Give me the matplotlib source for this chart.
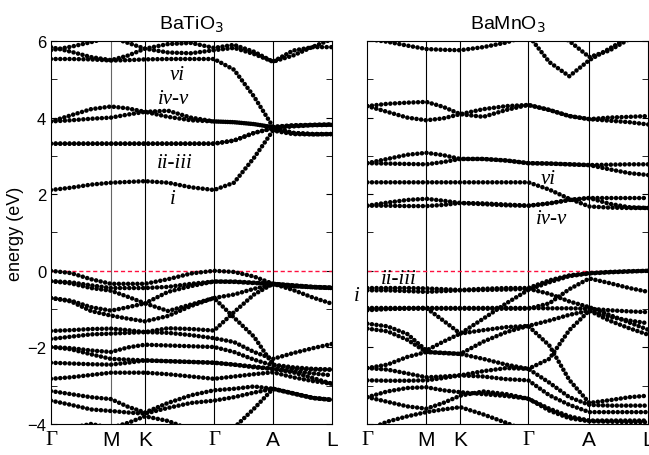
import numpy as np
import matplotlib.pyplot as plt

# k-path sample positions (arbitrary units) and high-symmetry points
k_tio = [0, 20, 40, 60, 77, 94, 117, 140, 163, 183, 203, 222, 242, 262, 281]
k_mno = [0, 20, 40, 59, 76, 93, 116, 139, 161, 182, 202, 222, 242, 262, 281]
hs_tio = [0, 60, 94, 163, 222, 281]
hs_mno = [0, 59, 93, 161, 222, 281]
hs_labels = ['Γ', 'M', 'K', 'Γ', 'A', 'L']

# BaTiO3 bands (eV)
bands_tio = [
    [5.84, 5.72, 5.58, 5.50, 5.62, 5.80, 5.70, 5.68, 5.76, 5.82, 5.66, 5.46, 5.62, 5.85, 6.05],
    [5.76, 5.85, 5.97, 6.10, 5.95, 5.80, 5.92, 5.95, 5.82, 5.90, 5.72, 5.46, 5.75, 5.84, 5.84],
    [5.53, 5.53, 5.52, 5.49, 5.50, 5.52, 5.53, 5.53, 5.53, 5.25, 4.55, 3.76, 3.80, 3.81, 3.82],
    [3.90, 4.06, 4.22, 4.29, 4.24, 4.15, 4.18, 4.00, 3.90, 3.88, 3.83, 3.75, 3.79, 3.81, 3.82],
    [3.90, 3.93, 3.97, 4.00, 4.08, 4.15, 4.02, 3.93, 3.90, 3.88, 3.83, 3.75, 3.60, 3.57, 3.57],
    [3.32, 3.32, 3.32, 3.32, 3.32, 3.32, 3.32, 3.32, 3.32, 3.40, 3.60, 3.72, 3.60, 3.57, 3.57],
    [3.32, 3.32, 3.32, 3.32, 3.32, 3.32, 3.32, 3.32, 3.32, 3.40, 3.60, 3.72, 3.77, 3.80, 3.81],
    [2.11, 2.17, 2.25, 2.30, 2.32, 2.34, 2.30, 2.18, 2.11, 2.30, 2.95, 3.66, 3.57, 3.56, 3.57],
    [0.00, -0.06, -0.22, -0.34, -0.34, -0.34, -0.22, -0.07, 0.00, -0.03, -0.15, -0.34, -0.38, -0.42, -0.44],
    [-0.27, -0.30, -0.38, -0.45, -0.45, -0.45, -0.42, -0.34, -0.28, -0.28, -0.31, -0.34, -0.50, -0.70, -0.86],
    [-0.27, -0.33, -0.45, -0.52, -0.68, -0.85, -0.55, -0.40, -0.28, -0.29, -0.32, -0.34, -0.40, -0.43, -0.45],
    [-0.71, -0.78, -0.95, -1.04, -0.95, -0.85, -1.05, -0.88, -0.71, -1.22, -1.72, -2.45, -2.52, -2.56, -2.58],
    [-0.71, -0.80, -1.05, -1.17, -1.25, -1.32, -1.18, -0.92, -0.71, -0.62, -0.47, -0.36, -0.40, -0.43, -0.45],
    [-1.57, -1.55, -1.52, -1.51, -1.55, -1.60, -1.50, -1.52, -1.56, -1.08, -0.62, -0.34, -0.38, -0.42, -0.44],
    [-1.78, -1.72, -1.66, -1.64, -1.62, -1.60, -1.62, -1.68, -1.76, -1.86, -2.12, -2.30, -2.15, -2.02, -1.91],
    [-1.99, -2.02, -2.08, -2.12, -2.00, -1.93, -1.95, -1.97, -1.99, -2.12, -2.32, -2.47, -2.55, -2.58, -2.58],
    [-1.99, -2.05, -2.18, -2.30, -2.32, -2.34, -2.36, -2.38, -2.40, -2.45, -2.52, -2.56, -2.65, -2.80, -2.95],
    [-2.40, -2.42, -2.44, -2.45, -2.40, -2.34, -2.36, -2.38, -2.40, -2.45, -2.50, -2.56, -2.62, -2.68, -2.73],
    [-2.82, -2.78, -2.72, -2.66, -2.66, -2.66, -2.70, -2.76, -2.82, -2.76, -2.70, -2.65, -2.78, -2.88, -2.95],
    [-3.14, -3.22, -3.30, -3.35, -3.55, -3.70, -3.45, -3.25, -3.12, -3.08, -3.02, -3.08, -3.20, -3.32, -3.37],
    [-3.39, -3.50, -3.62, -3.66, -3.70, -3.73, -3.58, -3.45, -3.39, -3.30, -3.18, -3.08, -3.20, -3.32, -3.37],
    [-4.30, -4.10, -4.00, -4.10, -3.97, -3.80, -3.92, -4.15, -4.40, -4.10, -3.60, -3.08, -3.20, -3.32, -3.37],
]

# BaMnO3 bands (eV)
bands_mno = [
    [6.05, 5.98, 5.88, 5.79, 5.77, 5.76, 5.84, 5.96, 6.15, 5.45, 5.08, 5.50, 5.80, 6.10, 6.30],
    [6.40, 6.40, 6.40, 6.40, 6.40, 6.40, 6.40, 6.40, 6.40, 6.30, 6.00, 5.58, 5.75, 6.05, 6.30],
    [4.30, 4.36, 4.39, 4.41, 4.28, 4.09, 4.22, 4.30, 4.33, 4.20, 4.04, 3.96, 4.00, 4.02, 4.04],
    [4.30, 4.15, 4.00, 3.93, 3.98, 4.09, 4.02, 4.20, 4.33, 4.20, 4.04, 3.96, 3.92, 3.88, 3.82],
    [2.81, 2.92, 3.03, 3.08, 3.02, 2.92, 2.92, 2.88, 2.81, 2.80, 2.78, 2.76, 2.77, 2.78, 2.78],
    [2.81, 2.80, 2.79, 2.78, 2.84, 2.92, 2.92, 2.88, 2.81, 2.80, 2.78, 2.76, 2.65, 2.55, 2.50],
    [2.31, 2.31, 2.31, 2.31, 2.31, 2.31, 2.31, 2.31, 2.31, 2.12, 1.88, 1.68, 1.65, 1.64, 1.64],
    [1.70, 1.78, 1.85, 1.88, 1.83, 1.77, 1.76, 1.73, 1.70, 1.76, 1.85, 1.90, 1.90, 1.90, 1.90],
    [1.70, 1.70, 1.69, 1.69, 1.72, 1.77, 1.74, 1.71, 1.70, 1.76, 1.85, 1.90, 1.75, 1.66, 1.64],
    [-0.45, -0.45, -0.45, -0.46, -0.48, -0.50, -0.47, -0.45, -0.45, -0.25, -0.12, -0.06, -0.03, -0.01, 0.00],
    [-0.51, -0.51, -0.53, -0.55, -0.53, -0.51, -0.50, -0.49, -0.47, -0.60, -0.80, -0.95, -1.15, -1.35, -1.54],
    [-1.38, -1.45, -1.65, -2.08, -1.85, -1.64, -1.25, -0.85, -0.50, -0.30, -0.14, -0.07, -0.04, -0.02, 0.00],
    [-0.97, -0.97, -0.97, -0.97, -0.97, -0.97, -0.97, -0.97, -0.97, -0.98, -0.98, -0.99, -1.03, -1.06, -1.08],
    [-0.99, -0.99, -0.99, -0.99, -0.99, -0.99, -0.99, -0.99, -0.99, -0.85, -0.48, -0.20, -0.32, -0.45, -0.55],
    [-1.03, -1.00, -0.98, -0.97, -1.30, -1.64, -1.55, -1.47, -1.44, -1.95, -2.85, -3.45, -3.38, -3.30, -3.26],
    [-1.51, -1.58, -1.80, -2.12, -2.14, -2.17, -1.85, -1.60, -1.44, -1.30, -1.15, -1.04, -1.20, -1.30, -1.37],
    [-2.54, -2.58, -2.68, -2.78, -2.76, -2.73, -2.62, -2.54, -2.56, -2.30, -1.55, -1.04, -1.30, -1.50, -1.67],
    [-2.54, -2.45, -2.25, -2.12, -2.15, -2.17, -2.30, -2.45, -2.56, -2.92, -3.30, -3.50, -3.52, -3.52, -3.52],
    [-2.86, -2.87, -2.87, -2.86, -2.80, -2.73, -2.76, -2.83, -2.86, -3.25, -3.50, -3.69, -3.69, -3.69, -3.69],
    [-3.30, -3.15, -3.06, -3.04, -3.12, -3.17, -3.22, -3.27, -3.34, -3.60, -3.80, -3.91, -3.91, -3.91, -3.91],
    [-3.30, -3.42, -3.54, -3.60, -3.45, -3.26, -3.15, -3.22, -3.34, -3.65, -3.85, -3.93, -3.94, -3.95, -3.95],
    [-4.15, -3.94, -3.80, -3.69, -3.62, -3.56, -3.75, -3.97, -4.20, -4.30, -4.30, -4.30, -4.30, -4.30, -4.30],
]

# band labels: (text, k, energy)
labels_tio = [('vi', 126, 5.12), ('iv-v', 122, 4.49), ('ii-iii', 124, 2.84), ('i', 122, 1.88)]
labels_mno = [('vi', 181, 2.40), ('iv-v', 184, 1.36), ('ii-iii', 31, -0.21), ('i', -11, -0.64)]

plt.rcParams['font.family'] = ['Liberation Sans', 'DejaVu Sans']

fig = plt.figure(figsize=(6.49, 4.56), dpi=100)
ax1 = fig.add_axes([51/649, 1-425/456, 281/649, 383/456])
ax2 = fig.add_axes([367.3/649, 1-425/456, 281/649, 383/456])

def draw(ax, kk, bands, hs, labels, title, ylabels, mcolor):
    for b in bands:
        ax.plot(kk, b, color='k', lw=3.3, ls=(0, (0.01, 1.0)),
                dash_capstyle='round', zorder=3)
    for i, x in enumerate(hs[1:-1]):
        ax.axvline(x, color=mcolor if i == 0 else 'k', lw=0.8, zorder=1)
    ax.axhline(0, color='#ff1040', lw=1.0, ls=(0, (3, 2)), zorder=2)
    ax.set_xlim(0, 281)
    ax.set_ylim(-4, 6)
    ax.set_xticks(hs)
    ax.set_xticklabels(hs_labels, fontsize=15)
    for t, lab in zip(ax.get_xticklabels(), hs_labels):
        if lab == 'Γ':
            t.set_family('Liberation Serif')
    ax.tick_params(axis='x', length=0, pad=4)
    ax.set_yticks([-4, -2, 0, 2, 4, 6])
    ax.set_yticks([-3, -1, 1, 3, 5], minor=True)
    ax.tick_params(axis='y', which='both', direction='in', length=4.5,
                   left=True, right=True, labelsize=12)
    if not ylabels:
        ax.tick_params(axis='y', which='both', labelleft=False)
    ax.set_title(title, fontsize=14, pad=9)
    for txt, kx, ey in labels:
        ax.text(kx, ey, txt, fontsize=15, family='Liberation Serif', style='italic',
                ha='center', va='center', clip_on=False, zorder=4)

draw(ax1, k_tio, bands_tio, hs_tio, labels_tio, 'BaTiO$_3$', True, '#666666')
draw(ax2, k_mno, bands_mno, hs_mno, labels_mno, 'BaMnO$_3$', False, 'k')
ax1.set_ylabel('energy (eV)', fontsize=13, labelpad=2)

fig.savefig('out.png', dpi=100)
